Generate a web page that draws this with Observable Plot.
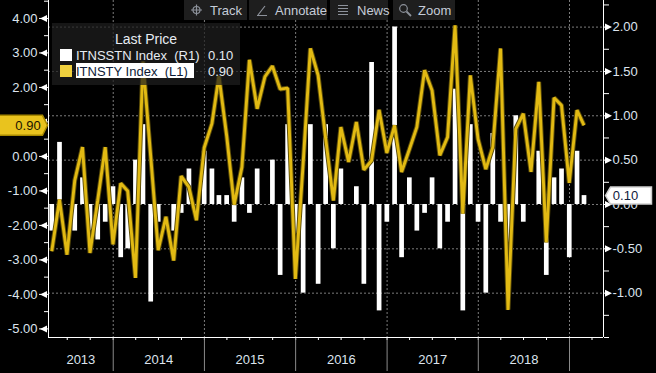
<!DOCTYPE html>
<html>
<head>
<meta charset="utf-8">
<script src="https://cdn.jsdelivr.net/npm/d3@7"></script>
<script src="https://cdn.jsdelivr.net/npm/@observablehq/plot@0.6"></script>
<style>
html, body { margin: 0; padding: 0; background: #000; }
#wrap { position: relative; width: 656px; height: 373px; overflow: hidden; background: #000; }
#wrap svg { position: absolute; left: 0; top: 0; }
</style>
</head>
<body>
<div id="wrap"></div>
<script>
// ---- data (monthly, Apr 2013 - Feb 2019) ----
const months = [
  "2013-04","2013-05","2013-06","2013-07","2013-08","2013-09","2013-10","2013-11","2013-12",
  "2014-01","2014-02","2014-03","2014-04","2014-05","2014-06","2014-07","2014-08","2014-09","2014-10","2014-11","2014-12",
  "2015-01","2015-02","2015-03","2015-04","2015-05","2015-06","2015-07","2015-08","2015-09","2015-10","2015-11","2015-12",
  "2016-01","2016-02","2016-03","2016-04","2016-05","2016-06","2016-07","2016-08","2016-09","2016-10","2016-11","2016-12",
  "2017-01","2017-02","2017-03","2017-04","2017-05","2017-06","2017-07","2017-08","2017-09","2017-10","2017-11","2017-12",
  "2018-01","2018-02","2018-03","2018-04","2018-05","2018-06","2018-07","2018-08","2018-09","2018-10","2018-11","2018-12",
  "2019-01","2019-02"
];
// ITNSSTN Index (R1) - white bars, right axis
const itnsstn = [
  -0.3, 0.7, 0.0, -0.3, 0.3, -0.3, -0.4, -0.2, 0.2,
  -0.6, -0.5, 0.5, 0.9, -1.1, -0.2, 0.0, -0.3, -0.1, 0.4, -0.1, 0.6,
  0.4, 0.1, 0.1, -0.2, 0.3, -0.1, 0.4, 0.0, 0.5, -0.8, 0.9, -0.4,
  -1.0, 0.9, -0.9, 0.9, -0.5, 0.4, 0.0, 0.2, -0.9, 1.6, -1.2, -0.2,
  2.0, -0.6, 0.3, -0.3, -0.1, 0.3, -0.5, -0.2, 1.3, -1.2, 0.9, -0.2,
  -1.0, 0.8, -0.2, -0.5, 1.0, -0.2, 0.0, 0.6, -0.8, 0.3, 0.4, -0.6,
  0.6, 0.1
];
// ITNSTY Index (L1) - yellow line, left axis
const itnsty = [
  -2.75, -1.25, -2.85, -0.70, 0.27, -2.80, -1.27, 0.27, -2.55,
  -0.78, -1.00, -3.52, 2.75, 0.00, -2.72, -1.75, -3.02, -0.57, -0.89, -1.85, 0.25,
  0.95, 2.33, 0.60, -1.40, -0.31, 2.80, 1.38, 2.31, 2.62, 1.95, 1.98, -3.55,
  -0.21, 3.13, 2.35, 0.53, -1.28, 0.85, -0.16, 1.00, -0.39, -0.12, 1.35, 0.10,
  0.90, -0.45, 0.20, 0.85, 2.50, 1.91, 0.03, 0.56, 3.80, -1.66, 2.35, 0.50,
  -0.37, 0.27, 3.13, -4.45, 0.80, 1.24, -0.45, 2.16, -2.49, 1.70, 1.48, -0.77,
  1.34, 0.90
];
const leftTicks = [4, 3, 2, 1, 0, -1, -2, -3, -4, -5];
const leftMinor = [4.5, 3.5, 2.5, 1.5, 0.5, -0.5, -1.5, -2.5, -3.5, -4.5];
const rightTicks = [2, 1.5, 1, 0.5, 0, -0.5, -1];
const rightMinor = [2.25, 1.75, 1.25, 0.75, 0.25, -0.25, -0.75, -1.25, -1.5];
const years = ["2013", "2014", "2015", "2016", "2017", "2018"];
const yearBoundaries = ["2014", "2015", "2016", "2017", "2018", "2019"];
const seriesNames = ["ITNSSTN Index  (R1)", "ITNSTY Index  (L1)"];
const toolbarLabels = ["Track", "Annotate", "News", "Zoom"];

// ---- styling ----
const font = '"Liberation Sans", Arial, sans-serif';
const labelColor = "#dde4ee";
const gridColor = "#7c7c7c";
const yellow = "#e2ba13";

const parseMonth = d3.utcParse("%Y-%m");
const monthEnd = m => d3.utcDay.offset(d3.utcMonth.offset(parseMonth(m), 1), -1);
const rows = months.map((m, i) => ({date: monthEnd(m), stn: itnsstn[i], sty: itnsty[i]}));

const xDomain = [new Date("2013-04-17T00:00:00Z"), new Date("2019-05-17T00:00:00Z")];
const yearStarts = yearBoundaries.map(y => new Date(`${y}-01-01T00:00:00Z`));
const quarterTicks = d3.utcMonth.every(3).range(xDomain[0], xDomain[1]);
const yearLabels = years.map(y => {
  const a = Math.max(+new Date(`${y}-01-01T00:00:00Z`), +xDomain[0]);
  const b = Math.min(+new Date(`${+y + 1}-01-01T00:00:00Z`), +xDomain[1]);
  return {year: y, mid: new Date((a + b) / 2)};
});

// custom symbols
const triLeft = {draw(ctx) { ctx.moveTo(3.5, -3.5); ctx.lineTo(-3.5, 0); ctx.lineTo(3.5, 3.5); ctx.closePath(); }};
const triRight = {draw(ctx) { ctx.moveTo(-3.5, -3.5); ctx.lineTo(3.5, 0); ctx.lineTo(-3.5, 3.5); ctx.closePath(); }};
const tagLeft = {draw(ctx) { ctx.moveTo(-26, -10); ctx.lineTo(18, -10); ctx.lineTo(23, 0); ctx.lineTo(18, 10); ctx.lineTo(-26, 10); ctx.closePath(); }};
const tagRight = {draw(ctx) { ctx.moveTo(-20, 0); ctx.lineTo(-15, -8.5); ctx.lineTo(26, -8.5); ctx.lineTo(26, 8.5); ctx.lineTo(-15, 8.5); ctx.closePath(); }};

const common = {
  width: 656, height: 373,
  marginLeft: 48, marginRight: 53, marginTop: 0, marginBottom: 36,
  style: {background: "transparent", color: labelColor, fontFamily: font, fontSize: "13px", overflow: "visible"}
};

const lastStn = itnsstn[itnsstn.length - 1];
const lastSty = itnsty[itnsty.length - 1];
// the last-price tag hides the axis label it sits on
const leftLabelTicks = leftTicks.filter(t => Math.abs(t - lastSty) > 0.3);

// ---- bars + right axis + x axis ----
const barPlot = Plot.plot({
  ...common,
  x: {type: "utc", domain: xDomain, axis: null, label: null},
  y: {domain: [-1.5, 2.3], axis: null, label: null},
  marks: [
    Plot.gridX({ticks: yearStarts, stroke: gridColor, strokeOpacity: 1, strokeDasharray: "2,2"}),
    Plot.gridY({ticks: rightTicks, stroke: gridColor, strokeOpacity: 1, strokeDasharray: "2,2"}),
    Plot.ruleX(rows, {x: "date", y1: 0, y2: "stn", stroke: "#ffffff", strokeWidth: 4.7}),
    Plot.axisX({ticks: quarterTicks, tickSize: 3, tickFormat: () => "", stroke: "#ffffff", label: null}),
    Plot.axisX({ticks: yearStarts, tickSize: 34, tickFormat: () => "", stroke: "#8a8a8a", label: null}),
    Plot.text(yearLabels, {x: "mid", text: "year", frameAnchor: "bottom", dy: 26, textAnchor: "middle", fill: labelColor, fontSize: 13}),
    Plot.ruleY([-1.5], {stroke: "#ffffff"}),
    Plot.ruleX([xDomain[0], xDomain[1]], {stroke: "#ffffff"}),
    Plot.axisY({anchor: "right", ticks: rightTicks, tickSize: 0, tickPadding: 9, tickFormat: d => d.toFixed(2), fill: labelColor, fontSize: 13, label: null}),
    Plot.axisY({anchor: "right", ticks: rightTicks, tickSize: 3, tickFormat: () => "", stroke: "#ffffff", label: null}),
    Plot.axisY({anchor: "right", ticks: rightMinor, tickSize: 5, tickFormat: () => "", stroke: "#ffffff", label: null}),
    Plot.dot(rightTicks, {y: d => d, frameAnchor: "right", dx: 5, symbol: triRight, fill: "#ffffff", stroke: "none"}),
    Plot.dot([lastStn], {y: d => d, frameAnchor: "right", dx: 22, symbol: tagRight, fill: "#ffffff", stroke: "#cfcfcf"}),
    Plot.text([lastStn], {y: d => d, frameAnchor: "right", dx: 22, textAnchor: "middle", text: d => d.toFixed(2), fill: "#10203c", fontSize: 13})
  ]
});

// ---- line + left axis ----
const linePlot = Plot.plot({
  ...common,
  x: {type: "utc", domain: xDomain, axis: null, label: null},
  y: {domain: [-5.25, 4.52], axis: null, label: null},
  marks: [
    Plot.line(rows, {x: "date", y: "sty", stroke: "#5c4d08", strokeWidth: 4.8, strokeLinejoin: "miter", strokeLinecap: "butt", clip: true}),
    Plot.line(rows, {x: "date", y: "sty", stroke: yellow, strokeWidth: 2.9, strokeLinejoin: "miter", strokeLinecap: "butt", clip: true}),
    Plot.axisY({anchor: "left", ticks: leftLabelTicks, tickSize: 0, tickPadding: 11, tickFormat: d => d.toFixed(2), fill: labelColor, fontSize: 13, label: null}),
    Plot.axisY({anchor: "left", ticks: leftTicks, tickSize: 9, tickFormat: () => "", stroke: "#ffffff", label: null}),
    Plot.axisY({anchor: "left", ticks: leftMinor, tickSize: 4, tickFormat: () => "", stroke: "#ffffff", label: null}),
    Plot.dot(leftTicks, {y: d => d, frameAnchor: "left", dx: -5, symbol: triLeft, fill: "#ffffff", stroke: "none"}),
    Plot.dot([lastSty], {y: d => d, frameAnchor: "left", dx: -24, symbol: tagLeft, fill: "#e9c31e", stroke: "#a88900"}),
    Plot.text([lastSty], {y: d => d, frameAnchor: "left", dx: -20.5, textAnchor: "middle", text: d => d.toFixed(2), fill: "#1a1400", fontSize: 13})
  ]
});

const wrap = document.getElementById("wrap");
wrap.appendChild(barPlot);
wrap.appendChild(linePlot);

// ---- overlay: toolbar + legend ----
const ov = d3.create("svg").attr("width", 656).attr("height", 373)
  .style("font-family", font);

const buttons = [
  {x: 184, w: 63, tx: 210, icon: "track"},
  {x: 249, w: 78, tx: 275, icon: "pen"},
  {x: 330, w: 58, tx: 357, icon: "news"},
  {x: 393, w: 62, tx: 418, icon: "zoom"}
];
buttons.forEach((b, i) => {
  ov.append("rect").attr("x", b.x).attr("y", 0).attr("width", b.w).attr("height", 20).attr("fill", "#1e1e1e");
  ov.append("text").attr("x", b.tx).attr("y", 14.5).attr("fill", "#c5ccd8").attr("font-size", 13).text(toolbarLabels[i]);
  const g = ov.append("g").attr("stroke", "#8d929b").attr("fill", "none").attr("stroke-width", 1.2);
  if (b.icon === "track") {
    g.append("circle").attr("cx", 196.5).attr("cy", 10).attr("r", 3.5);
    g.append("path").attr("d", "M191,10H202M196.5,4.5V15.5");
  } else if (b.icon === "pen") {
    g.append("path").attr("d", "M257,15.5H267M258,15L265,6");
  } else if (b.icon === "news") {
    g.append("path").attr("d", "M338,5.5H348M338,8.5H348M338,11.5H348M338,14.5H348");
  } else {
    g.append("circle").attr("cx", 403.5).attr("cy", 8.5).attr("r", 3.8);
    g.append("path").attr("d", "M406.5,11.5L411,16").attr("stroke-width", 1.8);
  }
});

ov.append("rect").attr("x", 52).attr("y", 23).attr("width", 188).attr("height", 62)
  .attr("fill", "rgba(30,30,30,0.72)");
ov.append("text").attr("x", 146).attr("y", 44).attr("text-anchor", "middle")
  .attr("fill", "#e6ebf2").attr("font-size", 14).text("Last Price");
ov.append("rect").attr("x", 60).attr("y", 49).attr("width", 12).attr("height", 12).attr("fill", "#ffffff");
ov.append("text").attr("x", 76).attr("y", 59.5).attr("fill", "#e6ebf2").attr("font-size", 13)
  .style("white-space", "pre").text(seriesNames[0]);
ov.append("text").attr("x", 208).attr("y", 59.5).attr("fill", "#e6ebf2").attr("font-size", 13).text(lastStn.toFixed(2));
ov.append("rect").attr("x", 60).attr("y", 65).attr("width", 12).attr("height", 12).attr("fill", "#efd03e");
ov.append("rect").attr("x", 76).attr("y", 63).attr("width", 118).attr("height", 15).attr("fill", "#ffffff");
ov.append("text").attr("x", 76).attr("y", 75.5).attr("fill", "#0c1a36").attr("font-size", 13)
  .style("white-space", "pre").text(seriesNames[1]);
ov.append("text").attr("x", 208).attr("y", 75.5).attr("fill", "#e6ebf2").attr("font-size", 13).text(lastSty.toFixed(2));

wrap.appendChild(ov.node());
</script>
</body>
</html>
